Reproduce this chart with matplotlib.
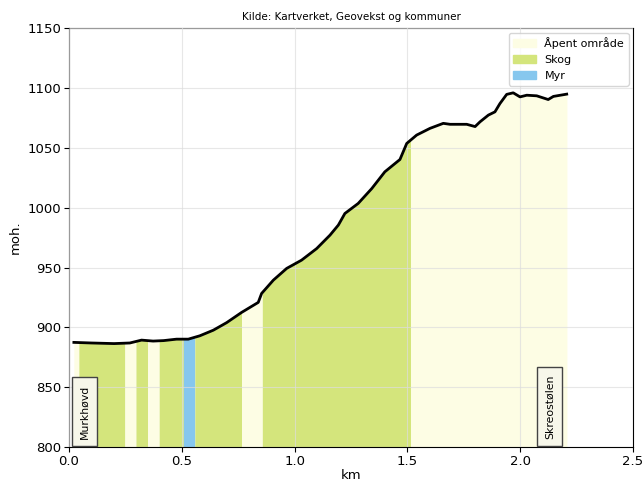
import numpy as np
import matplotlib.pyplot as plt
from matplotlib.patches import Patch

# elevation profile (km, moh.)
dist_km = [0.022, 0.10, 0.20, 0.27, 0.322, 0.373, 0.42, 0.477, 0.529, 0.58, 0.64,
           0.699, 0.765, 0.839, 0.854, 0.906, 0.965, 1.031, 1.098, 1.157, 1.194,
           1.223, 1.282, 1.342, 1.40, 1.467, 1.497, 1.541, 1.60, 1.659, 1.689,
           1.763, 1.80, 1.822, 1.859, 1.888, 1.91, 1.94, 1.969, 1.999, 2.029,
           2.073, 2.124, 2.147, 2.206]
elev_m = [887.5, 887.0, 886.5, 887.0, 889.4, 888.6, 889.0, 890.2, 890.2, 893.0, 897.7,
          904.0, 912.5, 920.9, 928.4, 939.5, 949.3, 956.2, 965.9, 977.1, 985.5,
          995.2, 1003.6, 1016.0, 1030.0, 1040.3, 1053.7, 1060.7, 1066.3, 1070.5, 1069.7,
          1069.7, 1067.8, 1071.8, 1077.4, 1080.1, 1087.0, 1094.7, 1096.0, 1092.6, 1094.0,
          1093.5, 1090.4, 1093.0, 1094.9]

# land cover segments along the profile
seg_start = [0.022, 0.044, 0.248, 0.297, 0.349, 0.400, 0.507, 0.558, 0.765, 0.857, 1.514]
seg_end   = [0.044, 0.248, 0.297, 0.349, 0.400, 0.507, 0.558, 0.765, 0.857, 1.514, 2.207]
seg_type  = ['open', 'skog', 'open', 'skog', 'open', 'skog', 'myr', 'skog', 'open', 'skog', 'open']

cover_colors = {'open': '#fdfde4', 'skog': '#d4e57c', 'myr': '#86c7ee'}
cover_labels = {'open': 'Åpent område', 'skog': 'Skog', 'myr': 'Myr'}

places = ['Murkhøvd', 'Skreostølen']
place_km = [0.07, 2.13]

fig = plt.figure(figsize=(6.44, 4.86), dpi=100)
ax = fig.add_axes([0.107, 0.080, 0.876, 0.862])

x = np.array(dist_km)
y = np.array(elev_m)
for s, e, t in zip(seg_start, seg_end, seg_type):
    xs = np.linspace(s, e, 40)
    ys = np.interp(xs, x, y)
    ax.fill_between(xs, 800, ys, color=cover_colors[t], linewidth=0, zorder=1)

ax.plot(x, y, color='black', linewidth=2, zorder=3)

for name, km in zip(places, place_km):
    ax.text(km, 807, name, rotation=90, ha='center', va='bottom', fontsize=7.8,
            bbox=dict(boxstyle='square,pad=0.7', facecolor='#f7f7ea', edgecolor='#444444'),
            zorder=4)

ax.set_xlim(0, 2.5)
ax.set_ylim(800, 1150)
ax.set_xticks([0.0, 0.5, 1.0, 1.5, 2.0, 2.5])
ax.set_yticks(np.arange(800, 1151, 50))
ax.tick_params(labelsize=9.5, pad=2)
ax.grid(True, color='#dddddd', linewidth=0.8, alpha=0.7, zorder=2)
ax.set_axisbelow(False)
ax.set_xlabel('km', fontsize=9.5, labelpad=1)
ax.set_ylabel('moh.', fontsize=9.5)
ax.set_title('Kilde: Kartverket, Geovekst og kommuner', fontsize=7.5)

handles = [Patch(color=cover_colors[k], label=cover_labels[k]) for k in ['open', 'skog', 'myr']]
ax.legend(handles=handles, loc='upper right', fontsize=8, labelspacing=0.55,
          borderaxespad=0.4)

fig.savefig('out.png', dpi=100)
